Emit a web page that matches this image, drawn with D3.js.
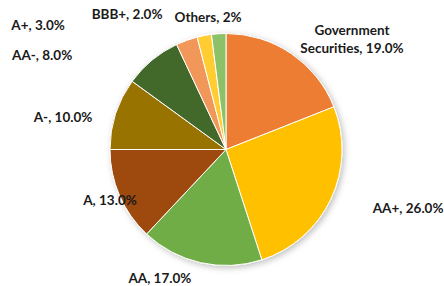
<!DOCTYPE html>
<html><head><meta charset="utf-8">
<script src="https://cdn.jsdelivr.net/npm/d3@7"></script>
<style>body{margin:0;background:#fff}svg{display:block}</style>
</head><body>
<script>
const categories = ["Government Securities","AA+","AA","A","A-","AA-","A+","BBB+","Others"];
const values = [19,26,17,13,10,8,3,2,2];
const labelTexts = [["Government","Securities, 19.0%"],["AA+, 26.0%"],["AA, 17.0%"],["A, 13.0%"],["A-, 10.0%"],["AA-, 8.0%"],["A+, 3.0%"],["BBB+, 2.0%"],["Others, 2%"]];
const colors = ["#ED7D31","#FFC000","#70AD47","#9E480E","#997300","#43682B","#F1975A","#FFCD33","#8CC168"];
// label centres relative to pie centre, in radius units
const labelOffsets = [[1.086,-0.95],[1.57,0.506],[-0.57,1.11],[-1.0,0.435],[-1.405,-0.28],[-1.585,-0.815],[-1.62,-1.074],[-0.853,-1.168],[-0.155,-1.142]];

const W=444,H=286, cx=226, cy=149.5, R=116;
const svg=d3.select("body").append("svg").attr("width",W).attr("height",H);
const defs=svg.append("defs");
const f=defs.append("filter").attr("id","sh").attr("x","-20%").attr("y","-20%").attr("width","140%").attr("height","140%");
f.append("feDropShadow").attr("dx",2).attr("dy",2).attr("stdDeviation",3).attr("flood-color","#000").attr("flood-opacity",0.25);

const pie=d3.pie().sort(null).value(d=>d)(values);
const arc=d3.arc().innerRadius(0).outerRadius(R);
const g=svg.append("g").attr("transform",`translate(${cx},${cy})`);
g.append("g").attr("filter","url(#sh)").selectAll("path").data(pie).join("path")
 .attr("d",arc).attr("fill",(d,i)=>colors[i]).attr("stroke","#fff").attr("stroke-width",1);

const lab=g.append("g").attr("font-family","Lato, 'Open Sans', sans-serif").attr("font-weight","bold").attr("font-size","13.5px").attr("fill","#1a1a1a").attr("text-anchor","middle");
pie.forEach((d,i)=>{
  const lines=labelTexts[i];
  const [ox,oy]=labelOffsets[i];
  const t=lab.append("text").attr("x",ox*R).attr("y",oy*R);
  lines.forEach((s,k)=>{
    t.append("tspan").attr("x",ox*R).attr("dy",k===0?((-(lines.length-1)/2)*18+4.7):18).text(s);
  });
});
</script>
</body></html>
